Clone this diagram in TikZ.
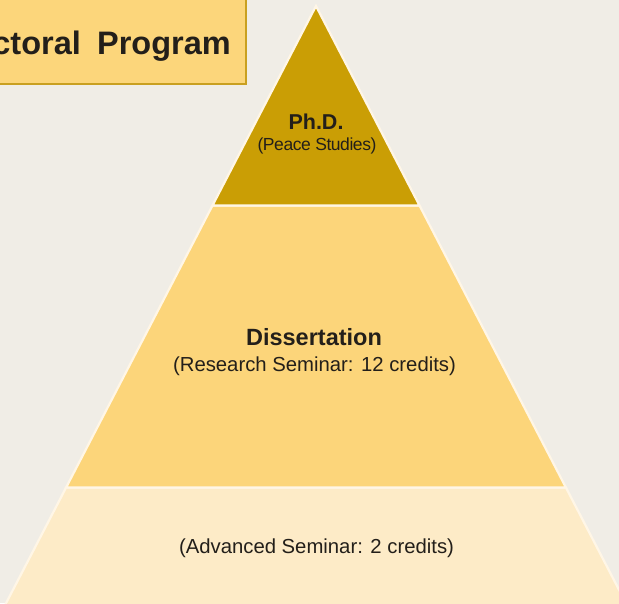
\documentclass[tikz,border=0pt]{standalone}
\usepackage{fontspec}
\setmainfont{Liberation Sans}
\definecolor{bgc}{HTML}{F0EDE6}
\definecolor{topc}{HTML}{CA9E05}
\definecolor{midc}{HTML}{FCD57A}
\definecolor{lowc}{HTML}{FDEBC7}
\definecolor{titlefill}{HTML}{FCD67B}
\definecolor{titleborder}{HTML}{C9A021}
\definecolor{edgec}{HTML}{FFF6E6}
\definecolor{txt}{HTML}{231F1A}
\tikzset{
  layer/.style={draw=edgec, line width=2.2pt, line join=miter},
  boldlabel/.style={text=txt, font=\bfseries\fontsize{#1}{#1}\selectfont, inner sep=0pt},
  plainlabel/.style={text=txt, font=\fontsize{#1}{#1}\selectfont, inner sep=0pt},
}
\begin{document}
\begin{tikzpicture}[x=1pt,y=-1pt]
\useasboundingbox (0,0) rectangle (619,603);
\clip (0,0) rectangle (619,603);
\fill[bgc] (0,0) rectangle (619,603);
% pyramid layers
\coordinate (apex) at (316,6);
\coordinate (t1l) at (212.5,205.5);
\coordinate (t1r) at (419.5,205.5);
\coordinate (t2l) at (66.1,487.5);
\coordinate (t2r) at (565.9,487.5);
\coordinate (t3l) at (2.5,610);
\coordinate (t3r) at (629.5,610);
\path[layer, fill=lowc] (t2l) -- (t2r) -- (t3r) -- (t3l) -- cycle;
\path[layer, fill=midc] (t1l) -- (t1r) -- (t2r) -- (t2l) -- cycle;
\path[layer, fill=topc] (apex) -- (t1r) -- (t1l) -- cycle;
% title box
\draw[fill=titlefill, draw=titleborder, line width=2pt] (-120,-2) rectangle (245.5,84);
\node[boldlabel=32.5, anchor=base east] (title) at (231,54.5) {Doctoral\hspace{0.5em}Program};
% labels
\node[boldlabel=21.5] (phd) at (316,122) {Ph.D.};
\node[plainlabel=17, anchor=center, font=\fontsize{17.5}{17.5}\selectfont\addfontfeatures{LetterSpace=-2.5}] (peace) at (317,146) {(Peace Studies)};
\node[boldlabel=23.5] (diss) at (314,337) {Dissertation};
\node[plainlabel=20.3] (research) at (314.5,366) {(Research Seminar: 12 credits)};
\node[plainlabel=20.3] (advanced) at (316.5,548) {(Advanced Seminar: 2 credits)};
\end{tikzpicture}
\end{document}
